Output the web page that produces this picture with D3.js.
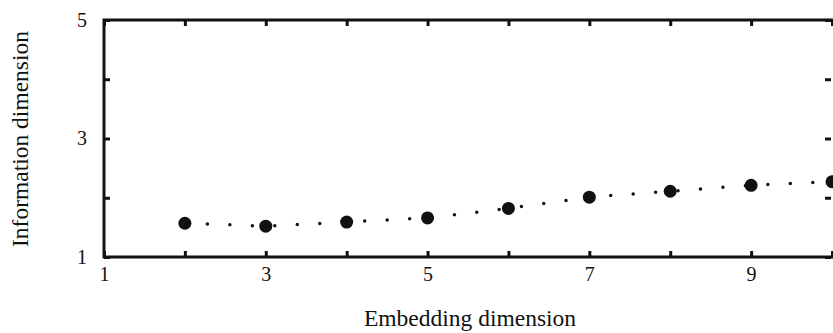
<!DOCTYPE html>
<html><head><meta charset="utf-8">
<script src="https://cdn.jsdelivr.net/npm/d3@7"></script>
<style>body{margin:0;background:#fff}svg{display:block}text{font-family:"Liberation Serif","Times New Roman",serif;fill:#111}</style>
</head><body><svg id="c" width="833" height="333"></svg>
<script>
const embedding = [2,3,4,5,6,7,8,9,10];
const infoDim = [1.57,1.52,1.59,1.66,1.82,2.01,2.11,2.21,2.27];
const xTicks = [1,2,3,4,5,6,7,8,9,10];
const xTickLabels = ["1","","3","","5","","7","","9",""];
const yTicks = [1,2,3,4,5];
const yTickLabels = ["1","","3","","5"];

const svg = d3.select("#c");
const x = d3.scaleLinear().domain([1,10]).range([104,832]);
const y = d3.scaleLinear().domain([1,5]).range([257,20]);

const lab = (vals, labels) => d => labels[vals.indexOf(d)];

const gb = svg.append("g").attr("transform",`translate(0,${y(1)})`)
  .call(d3.axisBottom(x).tickValues(xTicks).tickFormat(lab(xTicks,xTickLabels)).tickSizeInner(-6).tickSizeOuter(0).tickPadding(10));
const gt = svg.append("g").attr("transform",`translate(0,${y(5)})`)
  .call(d3.axisTop(x).tickValues(xTicks).tickFormat("").tickSizeInner(-6).tickSizeOuter(0));
const gl = svg.append("g").attr("transform",`translate(${x(1)},0)`)
  .call(d3.axisLeft(y).tickValues(yTicks).tickFormat(lab(yTicks,yTickLabels)).tickSizeInner(-6).tickSizeOuter(0).tickPadding(17));
const gr = svg.append("g").attr("transform",`translate(${x(10)-1},0)`)
  .call(d3.axisRight(y).tickValues(yTicks).tickFormat("").tickSizeInner(-6).tickSizeOuter(0));

[gb,gt,gl,gr].forEach(g=>{
  g.attr("font-family",null);
  g.select(".domain").remove();
  g.selectAll(".tick line").attr("stroke","#111").attr("stroke-width",3);
  g.selectAll(".tick text").attr("font-size",20).attr("fill","#111");
});

svg.append("rect").attr("x",x(1)).attr("y",y(5)).attr("width",x(10)-x(1)+4).attr("height",y(1)-y(5))
  .attr("fill","none").attr("stroke","#111").attr("stroke-width",3);

svg.append("path").datum(embedding.map((d,i)=>[d,infoDim[i]]))
  .attr("d",d3.line().x(d=>x(d[0])).y(d=>y(d[1])))
  .attr("fill","none").attr("stroke","#111").attr("stroke-width",3.5)
  .attr("stroke-linecap","round").attr("stroke-dasharray","0,22.5");

svg.selectAll("circle.pt").data(embedding).join("circle").attr("class","pt")
  .attr("cx",d=>x(d)).attr("cy",(d,i)=>y(infoDim[i])).attr("r",6.5).attr("fill","#111");

svg.append("text").attr("x",470).attr("y",326).attr("text-anchor","middle").attr("font-size",23.5).text("Embedding dimension");
svg.append("text").attr("transform","translate(28,139) rotate(-90)").attr("text-anchor","middle").attr("font-size",23.5).text("Information dimension");
</script></body></html>
